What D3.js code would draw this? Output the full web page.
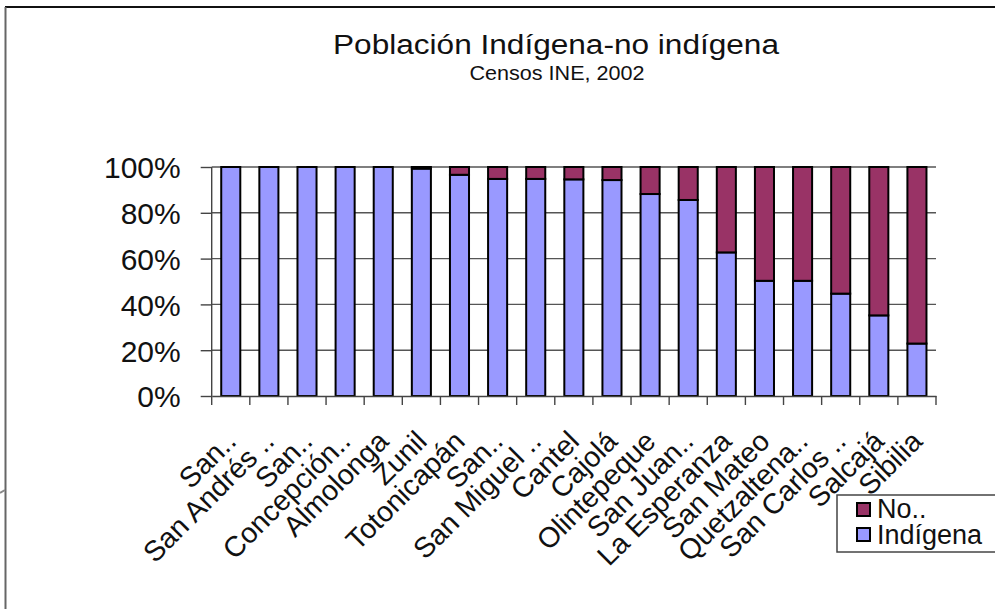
<!DOCTYPE html>
<html>
<head>
<meta charset="utf-8">
<script src="https://cdn.jsdelivr.net/npm/d3@7"></script>
<style>
  html, body { margin: 0; padding: 0; background: #fff; }
  svg { display: block; font-family: "Liberation Sans", Arial, sans-serif; }
</style>
</head>
<body>
<svg id="chart" width="995" height="609"></svg>
<script>
// Municipios (etiquetas tal como aparecen, abreviadas)
const categories = ["San..", "San Andrés ..", "San..", "Concepción..", "Almolonga", "Zunil",
  "Totonicapán", "San..", "San Miguel ..", "Cantel", "Cajolá", "Olintepeque", "San Juan..",
  "La Esperanza", "San Mateo", "Quetzaltena..", "San Carlos ..", "Salcajá", "Sibilia"];

// Porcentaje de población indígena y no indígena
const indigena = [100, 100, 100, 100, 100, 99.3, 96.6, 94.8, 94.8, 94.6, 94.3, 88.2, 85.6,
  62.7, 50.3, 50.3, 44.7, 35.2, 22.9];
const noIndigena = [0, 0, 0, 0, 0, 0.7, 3.4, 5.2, 5.2, 5.4, 5.7, 11.8, 14.4,
  37.3, 49.7, 49.7, 55.3, 64.8, 77.1];

const yTicks = [0, 20, 40, 60, 80, 100];
const seriesNames = ["No..", "Indígena"];
const colors = { indigena: "#9999FF", noIndigena: "#993366" };

const svg = d3.select("#chart");

// Marco exterior
svg.append("line").attr("x1", 5).attr("x2", 995).attr("y1", 7).attr("y2", 7)
  .attr("stroke", "#111").attr("stroke-width", 2.2);
svg.append("line").attr("x1", 5.5).attr("x2", 5.5).attr("y1", 7).attr("y2", 609)
  .attr("stroke", "#666").attr("stroke-width", 2);
svg.append("line").attr("x1", 0).attr("x2", 5).attr("y1", 493).attr("y2", 490)
  .attr("stroke", "#888").attr("stroke-width", 2);

// Títulos
svg.append("text").attr("x", 556).attr("y", 54).attr("text-anchor", "middle")
  .attr("font-size", 27).attr("fill", "#111")
  .attr("textLength", 446).attr("lengthAdjust", "spacingAndGlyphs")
  .text("Población Indígena-no indígena");
svg.append("text").attr("x", 557).attr("y", 80).attr("text-anchor", "middle")
  .attr("font-size", 20).attr("fill", "#111")
  .attr("textLength", 175).attr("lengthAdjust", "spacingAndGlyphs")
  .text("Censos INE, 2002");

const x = d3.scaleBand().domain(d3.range(categories.length)).range([211.7, 936]).paddingInner(0.5).paddingOuter(0.25);
const xb = d3.scaleBand().domain(d3.range(categories.length)).range([211.7, 936]);
const y = d3.scaleLinear().domain([0, 100]).range([396, 167]);

const g = svg.append("g");

// Líneas de cuadrícula
g.selectAll(".grid").data(yTicks.filter(d => d > 0)).join("line")
  .attr("x1", 211.7).attr("x2", 936)
  .attr("y1", d => y(d)).attr("y2", d => y(d))
  .attr("stroke", "#555").attr("stroke-width", 1.4);

// Eje Y
const yAxis = d3.axisLeft(y).tickValues(yTicks).tickSize(11).tickFormat(d => d + "%");
const ya = svg.append("g").attr("transform", "translate(211.7,0)").call(yAxis);
ya.select(".domain").remove();
ya.selectAll(".tick line").attr("stroke", "#444").attr("stroke-width", 1.4);
ya.selectAll(".tick text").attr("x", -31).attr("dy", "0.36em")
  .attr("font-size", 30).attr("fill", "#111").attr("font-family", "Liberation Sans, Arial, sans-serif");

// Barras apiladas
const stackData = categories.map((c, i) => ({ i, indigena: indigena[i], noIndigena: noIndigena[i] }));
const stack = d3.stack().keys(["indigena", "noIndigena"]);
const layers = stack(stackData);

layers.forEach(layer => {
  g.selectAll(".bar-" + layer.key).data(layer.filter(d => d[1] - d[0] > 0)).join("rect")
    .attr("x", d => x(d.data.i))
    .attr("width", x.bandwidth())
    .attr("y", d => y(d[1]))
    .attr("height", d => y(d[0]) - y(d[1]))
    .attr("fill", colors[layer.key])
    .attr("stroke", "#000").attr("stroke-width", 2);
});

// Eje X
const xAxis = d3.axisBottom(xb).tickSize(0).tickFormat(i => categories[i]);
const xa = svg.append("g").attr("transform", "translate(0,396)").call(xAxis);
xa.select(".domain").attr("stroke", "#444").attr("stroke-width", 1.4);
// marcas entre categorías
const bounds = d3.range(categories.length + 1).map(i => 211.7 + i * xb.step());
svg.selectAll(".xtick").data(bounds).join("line")
  .attr("x1", d => d).attr("x2", d => d).attr("y1", 396).attr("y2", 405)
  .attr("stroke", "#444").attr("stroke-width", 1.4);
svg.append("line").attr("x1", 211.7).attr("x2", 211.7).attr("y1", 167).attr("y2", 396)
  .attr("stroke", "#444").attr("stroke-width", 1.4);

xa.selectAll(".tick text")
  .attr("font-size", 28.5).attr("fill", "#111").attr("font-family", "Liberation Sans, Arial, sans-serif")
  .attr("text-anchor", "end")
  .attr("y", 0).attr("dy", 0)
  .attr("transform", "translate(7,47) rotate(-45)");

// Leyenda
const lg = svg.append("g").attr("transform", "translate(837,495)");
lg.append("rect").attr("x", 0).attr("y", 0).attr("width", 170).attr("height", 57)
  .attr("fill", "#fff").attr("stroke", "#444").attr("stroke-width", 1.5);
const legendColors = [colors.noIndigena, colors.indigena];
seriesNames.forEach((name, k) => {
  lg.append("rect").attr("x", 20).attr("y", 8 + k * 25).attr("width", 13).attr("height", 13)
    .attr("fill", legendColors[k]).attr("stroke", "#000").attr("stroke-width", 2);
  lg.append("text").attr("x", 40).attr("y", 23 + k * 26).attr("font-size", 27).attr("fill", "#111")
    .text(name);
});
</script>
</body>
</html>
